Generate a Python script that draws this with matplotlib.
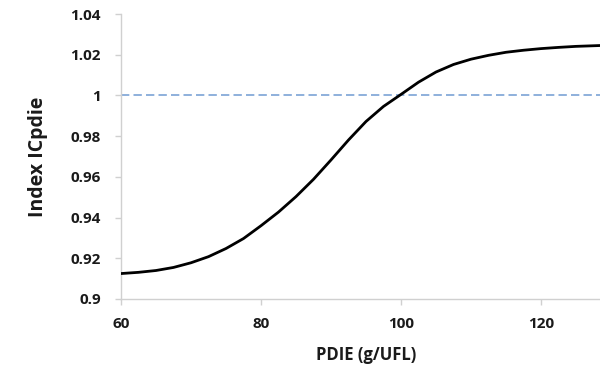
import matplotlib
matplotlib.use("Agg")
import matplotlib.pyplot as plt

pdie = [60, 62.5, 65, 67.5, 70, 72.5, 75, 77.5, 80, 82.5, 85, 87.5, 90, 92.5,
        95, 97.5, 100, 102.5, 105, 107.5, 110, 112.5, 115, 117.5, 120, 122.5,
        125, 127.5, 130]
index_icpdie = [0.9125, 0.9131, 0.9140, 0.9155, 0.9178, 0.9208, 0.9248, 0.9297,
                0.9360, 0.9427, 0.9503, 0.9588, 0.9683, 0.9781, 0.9872, 0.9946,
                1.0005, 1.0065, 1.0115, 1.0152, 1.0178, 1.0197, 1.0212, 1.0222,
                1.0230, 1.0236, 1.0241, 1.0244, 1.0247]
ref_x = [60, 130]
ref_y = [1.0, 1.0]

x_ticks = [60, 80, 100, 120]
y_ticks = [0.9, 0.92, 0.94, 0.96, 0.98, 1.0, 1.02, 1.04]
y_tick_labels = ["0.9", "0.92", "0.94", "0.96", "0.98", "1", "1.02", "1.04"]

plt.rcParams['font.family'] = ['Open Sans', 'DejaVu Sans']

fig = plt.figure(figsize=(6.0, 3.71), dpi=100)
ax = fig.add_axes([121/600, 1 - 299/371, 490/600, 285/371])

ax.plot(ref_x, ref_y, color='#7ba3d6', lw=1.2, dashes=(5, 2.5), zorder=2)
ax.plot(pdie, index_icpdie, color='black', lw=2.0, zorder=3,
        solid_capstyle='round', solid_joinstyle='round')

ax.set_xlim(60, 130)
ax.set_ylim(0.9, 1.04)
ax.set_xticks(x_ticks)
ax.set_xticklabels([str(v) for v in x_ticks], fontsize=11, fontweight='bold', color='#1a1a1a')
ax.set_yticks(y_ticks)
ax.set_yticklabels(y_tick_labels, fontsize=11, fontweight='bold', color='#1a1a1a')

for s in ['top', 'right']:
    ax.spines[s].set_visible(False)
for s in ['left', 'bottom']:
    ax.spines[s].set_color('#d0d0d0')
    ax.spines[s].set_linewidth(1.0)
ax.tick_params(axis='both', direction='out', length=4.5, width=1.0, color='#d0d0d0')
ax.tick_params(axis='y', pad=10)
ax.tick_params(axis='x', pad=8.5)

ax.set_xlabel('PDIE (g/UFL)', fontsize=12, fontweight='bold', color='#1a1a1a', labelpad=11)
ax.set_ylabel('Index ICpdie', fontsize=14, fontweight='bold', color='#1a1a1a', labelpad=16)

fig.savefig('out.png', dpi=100)
